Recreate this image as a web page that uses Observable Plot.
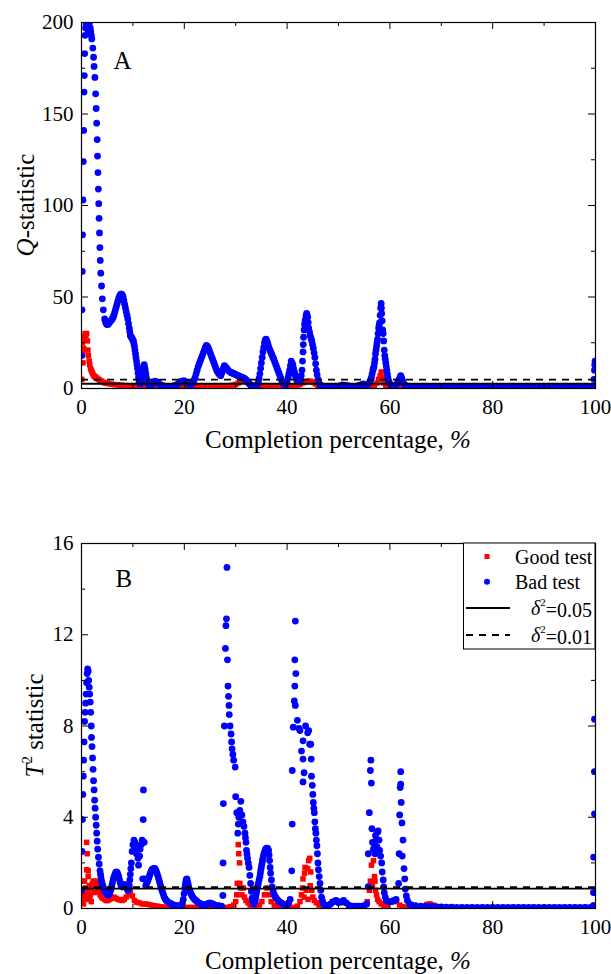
<!DOCTYPE html>
<html><head><meta charset="utf-8">
<script src="https://cdn.jsdelivr.net/npm/d3@7"></script>
<script src="https://cdn.jsdelivr.net/npm/@observablehq/plot@0.6"></script>
<style>
body{margin:0;background:#fff;}
#wrap{position:relative;width:611px;height:974px;}
#wrap svg{position:absolute;left:0;}
</style></head><body><div id="wrap"></div>
<script>
// ---------- data (completion %, statistic) ----------
const qBad = [
[0.05,18],[0.1,43],[0.15,64],[0.2,84],[0.28,103],[0.35,124],[0.42,141],[0.5,162],[0.55,171],[0.62,183],[0.7,193],[0.8,197],[0.9,199],[1.0,200],[1.1,198],[1.25,196],[1.4,199],[1.55,200],[1.7,197],[1.8,195],[1.9,193],[2.0,191],[2.2,186],[2.35,181],[2.45,176],[2.6,170],[2.75,161],[2.85,153],[2.95,145],[3.05,136],[3.12,127],[3.2,118],[3.28,109],[3.35,101],[3.42,93],[3.5,85],[3.58,77],[3.65,70],[3.75,63],[3.9,56],[4.05,49],[4.25,43],
[4.5,38],[4.65,36.5],[4.8,35.5],[4.95,35],[5.1,35],[5.25,35.3],[5.4,36],[5.55,36.5],[5.7,37],[5.85,37.5],[6.0,38],[6.15,39],[6.3,40],[6.45,41.5],[6.6,43],[6.75,44.5],[6.9,46],[7.05,47.5],[7.2,49],[7.35,50],[7.5,51],[7.65,51.5],[7.8,51.5],[7.95,51],[8.1,50],[8.25,48],[8.4,46],[8.55,44],[8.7,42],[8.85,40],[9.0,38],[9.15,35.5],[9.3,33],[9.4,31],[9.5,29],[9.6,28.5],[9.7,28],[9.8,27.5],[9.9,27],[10.0,26.5],[10.1,26],[10.2,24.5],[10.3,23],[10.4,21],[10.5,19],[10.6,17],[10.7,15],[10.8,13],[10.9,11],[11.0,8.5],[11.1,6],[11.2,4],[11.4,2.5],[11.6,3],[11.7,5],[11.8,7],[11.9,9],[12.0,11],[12.1,12],[12.2,13],[12.3,11.5],[12.4,10],[12.5,8],[12.6,6],[12.7,4.5],[12.8,3],[13.1,2],[13.5,1.5],[13.7,2],[13.9,2.5],[14.1,3.3],[14.3,4],[14.5,3.8],[14.7,3.5],[14.9,3],[15.1,2.5],[15.3,2.1],[15.5,1.8],[15.8,1.5],[16.0,1.3],[16.5,1],[17.0,1],[17.5,1.2],[18.0,1.5],[18.5,2],[18.8,2.5],[19.0,3],[19.3,3.6],[19.5,4],[19.8,4.2],[20.0,4.2],[20.3,3.5],[20.5,3],[20.8,2.4],[21.0,2],[21.3,2.2],
[21.5,2.5],[21.7,3.5],[21.9,4.5],[22.1,6],[22.3,8],[22.5,10],[22.7,12],[22.9,13.5],[23.1,15],[23.3,16.5],[23.5,18],[23.7,19.5],[23.9,21],[24.1,22.5],[24.3,23.5],[24.5,23],[24.7,22],[24.9,20.5],[25.1,19],[25.3,17.5],[25.5,16],[25.7,14.5],[25.9,13],[26.1,11.5],[26.3,10],[26.5,9],[26.7,8],[26.9,7.5],[27.1,7],[27.3,8.5],[27.5,10],[27.65,11.5],[27.8,12.5],[27.95,12],[28.1,11.5],[28.3,10.8],[28.5,10],[28.7,9.5],[28.9,9],[29.1,8.8],[29.3,8.5],[29.5,8.2],[29.7,8],[29.9,7.8],[30.1,7.5],[30.3,7.2],[30.5,7],[30.7,6.8],[30.9,6.5],[31.1,6.2],[31.3,6],[31.5,5.8],[31.7,5.5],[31.9,5],[32.1,4.5],[32.3,3.8],[32.5,3],[32.7,2.5],[32.9,2],[33.1,1.5],[33.3,1.2],[33.5,1],[33.7,1],[33.9,1.2],[34.1,1.5],[34.25,2.5],[34.4,3.5],[34.55,5.5],[34.7,8],[34.85,11],[35.0,14],[35.15,17],[35.3,20],[35.45,22.5],[35.6,25],[35.75,26.5],[35.9,27],[36.05,26],[36.2,25],[36.35,23.5],[36.5,22],[36.65,21],[36.8,20],[36.95,19],[37.1,18],[37.25,17],[37.4,16],[37.6,14.5],[37.8,13],[38.0,11.5],[38.2,10],[38.4,8.5],[38.6,7],[38.8,5.5],[39.0,4],[39.2,3],[39.4,2.5],[39.6,2],[39.8,2],[40.0,3.5],[40.2,6],[40.35,8],[40.5,10],[40.65,12.5],[40.8,15],[40.95,14],[41.1,13],[41.2,11.5],[41.3,10],[41.4,9],[41.5,8],[41.65,6.5],[41.8,5],[42.0,4],[42.2,3.5],[42.4,4],
[42.6,4.5],[42.75,7],[42.9,10],[43.0,15],[43.1,20],[43.15,24],[43.2,28],[43.3,32],[43.4,35],[43.5,37],[43.6,38],[43.7,40],[43.8,41],[43.9,40],[44.0,39],[44.1,36],[44.2,33],[44.35,31],[44.5,29],[44.65,27.5],[44.8,26],[44.95,24],[45.1,22],[45.25,19.5],[45.4,17],[45.55,13.5],[45.7,10],[45.85,7.5],[46.0,5],[46.15,3.5],[46.3,2.5],[46.55,1.8],[46.8,1.2],[47.3,1],[47.8,0.8],[48.3,0.8],[48.8,1],[49.3,1.2],[49.8,1],[50.3,1.5],[50.8,2],[51.3,1.8],[51.8,1.5],[52.3,1.2],[52.8,1],[53.3,1.2],[53.8,1.5],[54.3,2],[54.8,2.5],[55.3,2],[55.8,2.5],[56.0,3.2],[56.2,4],[56.3,5],[56.4,6],[56.55,8],[56.7,10],[56.8,11],[56.9,12],[57.0,14],[57.1,16],[57.2,19],[57.3,21],[57.4,23],[57.5,25],[57.6,27],[57.7,30],[57.8,33],[57.9,34.5],[58.0,36],[58.1,40],[58.2,44],[58.3,46.5],[58.35,44],[58.4,41],[58.5,37],[58.6,32],[58.7,30],[58.8,26],[58.9,21],[59.0,18],[59.1,16],[59.2,14],[59.3,12],[59.4,10],[59.5,8],[59.6,6],[59.7,4.5],[59.85,3.5],[60.0,2.5],[60.5,1.5],[61.0,1.5],[61.3,2.2],[61.5,3],[61.65,4],[61.8,5],[61.95,6],[62.1,7],[62.2,6.2],[62.3,5.5],[62.45,4.2],[62.6,3],[62.8,2.2],[63.0,1.5],[63.5,1],[64,1],[65,0.9],[66,0.9],[67,0.8],[68,0.8],[69,0.8],[70,0.7],[71,0.7],[72,0.7],[73,0.7],[74,0.7],[75,0.7],[76,0.7],[77,0.7],[78,0.7],[79,0.7],[80,0.7],[81,0.7],[82,0.7],[83,0.7],[84,0.7],[85,0.7],[86,0.7],[87,0.7],[88,0.7],[89,0.7],[90,0.7],[91,0.7],[92,0.7],[93,0.7],[94,0.7],[95,0.7],[96,0.7],[97,0.7],[98,0.7],[99,0.7],[99.5,1],[99.7,5],[99.8,10],[99.85,13],[99.9,15]
];
const qGood = [
[0.05,5],[0.15,25],[0.25,19],[0.3,14],[0.4,22],[0.55,28],[0.7,30],[0.85,29],[1.0,30],[1.15,26],[1.25,21],[1.35,18],[1.5,15],[1.6,13],[1.75,11],[1.9,10],[2.05,9],[2.2,8],[2.4,7],[2.6,6.5],[2.8,6],[3.0,5.5],[3.3,5],[3.6,4.5],[3.9,4],[4.2,3.5],[4.6,3],[5.0,2.8],[5.5,2.5],[6.0,2.3],[6.5,2.1],[7.0,2],[7.5,1.8],[8.0,1.7],[8.5,1.6],[9.0,1.5],[9.5,1.5],[10,1.4],[10.5,1.3],[11,1.3],[12,1.2],[13,1.2],[14,1.3],[15,1.2],[16,1.1],[17,1],[18,1],[19,1.1],[20,1.2],[21,1.3],[22,1.2],[23,1.1],[24,1.2],[25,1.3],[26,1.2],[27,1.3],[28,1.4],[29,1.6],[29.5,1.8],[30,2.2],[30.5,3],[31,4],[31.5,4.5],[32,4],[32.5,3],[33,2],[33.5,1.5],[34,1.2],[35,1.1],[36,1.2],[37,1.3],[38,1.2],[39,1.1],[40,1.2],[41,1.5],[42,1.8],[42.5,2.2],[43,3],[43.5,3.5],[44,4],[44.5,4],[45,3.5],[45.5,2.5],[46,1.6],[47,1.1],[48,0.8],[49,0.8],[50,0.8],[51,0.9],[52,1],[52.5,1.2],[53,1.3],[53.5,1.1],[54,0.8],[55,0.8],[56,0.9],[57,1.2],[57.5,3],[57.8,5],[58.1,7],[58.3,9],[58.5,6],[58.8,3],[59.2,1.5],[60,1],[61,0.9],[62,0.8],[63,0.7],[64,0.6],[65,0.6],[66,0.6],[67,0.6],[68,0.6],[69,0.6],[70,0.5],[72,0.5],[74,0.5],[76,0.5],[78,0.5],[80,0.5],[82,0.5],[84,0.5],[86,0.5],[88,0.5],[90,0.5],[92,0.5],[94,0.5],[96,0.5],[98,0.5],[100,0.5]
];
const t2Bad = [
[0.05,0.8],[0.1,2.5],[0.18,3.9],[0.25,5.0],[0.35,5.8],[0.42,6.5],[0.5,7.3],[0.6,8.2],[0.7,8.6],[0.8,9.0],[0.9,9.4],[1.0,9.9],[1.1,10.3],[1.2,10.5],[1.3,10.4],[1.4,10.0],[1.5,9.7],[1.6,9.4],[1.7,9.05],[1.8,8.6],[1.9,8.0],[1.95,7.5],[2.05,7.1],[2.15,6.6],[2.25,6.1],[2.35,5.6],[2.45,5.2],[2.55,4.75],[2.65,4.4],[2.75,4.0],[2.85,3.65],[2.95,3.3],[3.05,2.95],[3.15,2.6],[3.3,2.25],[3.45,1.95],[3.6,1.65],[3.7,1.5],
[3.8,1.35],[3.9,1.2],[4.0,1.1],[4.15,1.0],[4.3,0.9],[4.45,0.8],[4.6,0.75],[4.8,0.7],[5.0,0.65],[5.15,0.6],[5.3,0.6],[5.45,0.65],[5.6,0.75],[5.75,0.85],[5.9,1.0],[6.05,1.15],[6.2,1.3],[6.35,1.4],[6.5,1.5],[6.65,1.58],[6.8,1.6],[6.95,1.57],[7.1,1.5],[7.25,1.38],[7.4,1.25],[7.55,1.12],[7.7,1.0],[7.85,0.95],[8.0,0.95],[8.15,1.0],[8.3,1.05],[8.45,1.05],[8.6,1.0],[8.75,0.92],[8.9,0.85],[9.0,0.8],[9.1,0.8],[9.2,0.9],[9.3,1.0],[9.4,1.25],[9.5,1.5],[9.6,1.75],[9.7,2.0],[9.85,2.5],[10.0,2.8],[10.2,3.0],[10.4,2.9],[10.5,2.6],[10.7,2.4],[10.8,2.7],[11.0,2.2],[11.1,1.9],[11.3,2.3],[11.4,2.6],[11.6,2.8],[11.8,3.0],[11.9,1.3],[12.0,3.9],[12.05,5.2],[12.2,2.9],[12.3,1.3],
[12.5,1.0],[12.65,1.08],[12.8,1.15],[12.95,1.25],[13.1,1.35],[13.25,1.45],[13.4,1.55],[13.55,1.63],[13.7,1.7],[13.85,1.73],[14.0,1.75],[14.15,1.76],[14.3,1.75],[14.45,1.68],[14.6,1.6],[14.75,1.5],[14.9,1.4],[15.05,1.28],[15.2,1.15],[15.35,1.02],[15.5,0.9],[15.65,0.8],[15.8,0.7],[15.95,0.6],[16.1,0.5],[16.3,0.42],[16.5,0.35],[16.75,0.3],[17.0,0.25],[17.25,0.22],[17.5,0.2],[17.75,0.17],[18.0,0.15],[18.25,0.13],[18.5,0.12],[18.75,0.11],[19.0,0.1],[19.25,0.12],[19.5,0.15],[19.65,0.25],[19.8,0.4],[19.95,0.65],[20.1,0.9],[20.2,1.05],[20.3,1.2],[20.4,1.28],[20.5,1.3],[20.6,1.2],[20.7,1.1],[20.8,1.0],[20.9,0.9],[21.05,0.8],[21.2,0.7],[21.35,0.62],[21.5,0.55],[21.75,0.47],[22.0,0.4],[22.25,0.35],[22.5,0.3],[22.75,0.26],[23.0,0.22],[23.25,0.2],[23.5,0.18],[23.75,0.16],[24.0,0.15],[24.25,0.17],[24.5,0.2],[24.75,0.22],[25.0,0.25],[25.25,0.22],[25.5,0.2],[25.75,0.17],[26.0,0.15],[26.25,0.13],[26.5,0.12],[26.75,0.11],[27.0,0.1],[27.25,0.1],
[27.5,0.57],[27.55,2.0],[27.6,4.6],[27.8,8.0],[28.0,11.4],[28.1,12.4],[28.2,12.7],[28.3,14.95],[28.4,10.9],[28.5,9.75],[28.6,9.3],[28.7,8.9],[28.75,8.5],[28.9,8.0],[29.1,7.65],[29.2,7.3],[29.3,7.0],[29.45,6.75],[29.6,6.5],[29.9,6.2],[30.0,4.9],[30.2,4.2],[30.4,3.3],[30.5,3.7],[30.6,4.0],[30.8,4.3],[31.0,4.7],[31.2,4.1],[31.4,3.8],[31.6,3.6],
[31.8,3.3],[31.9,3.1],[32.0,2.9],[32.1,2.55],[32.2,2.38],[32.3,2.2],[32.45,2.0],[32.6,1.8],[32.75,1.45],[32.9,1.1],[33.05,0.75],[33.2,0.45],[33.35,0.3],[33.5,0.2],[33.65,0.25],[33.8,0.35],[33.9,0.5],[34.0,0.65],[34.1,0.78],[34.2,0.9],[34.3,1.0],[34.4,1.1],[34.55,1.25],[34.7,1.4],[34.8,1.55],[34.9,1.7],[35.0,1.82],[35.1,1.95],[35.2,2.08],[35.3,2.2],[35.4,2.3],[35.5,2.4],[35.65,2.5],[35.8,2.6],[35.95,2.63],[36.1,2.65],[36.25,2.62],[36.4,2.55],[36.5,2.35],[36.6,2.1],[36.7,1.8],[36.8,1.55],[36.95,1.25],[37.1,0.95],[37.3,0.75],[37.5,0.6],[37.7,0.52],[37.9,0.45],[38.2,0.37],[38.5,0.3],[38.85,0.25],[39.2,0.2],[39.6,0.17],[40.0,0.15],[40.3,0.25],[40.6,0.4],
[40.9,1.65],[41.0,3.7],[41.0,6.05],[41.2,7.95],[41.4,9.1],[41.5,9.75],[41.5,10.9],[41.6,8.9],[41.7,10.3],[41.6,12.6],[42.0,8.25],[42.3,7.9],[42.5,7.8],[42.8,6.9],[43.1,6.55],[43.1,7.35],[43.3,5.95],[43.1,5.55],[43.6,8.0],[44.0,7.7],[44.2,7.8],[44.4,7.2],[44.6,7.2],[44.7,6.55],[44.75,5.8],[44.9,5.4],[45.0,5.0],[45.1,4.65],[45.2,4.4],[45.3,4.2],[45.4,3.8],[45.5,3.5],[45.6,3.3],[45.7,3.0],[45.8,2.75],[45.9,2.4],[46.0,2.0],[46.1,1.7],[46.25,1.4],[46.4,1.1],[46.55,0.8],[46.7,0.5],[46.85,0.35],[47.0,0.25],[47.3,0.15],[47.7,0.12],[48.1,0.15],[48.5,0.2],[49.0,0.3],[49.5,0.35],[50.0,0.25],[50.5,0.3],[51.0,0.35],[51.5,0.25],[52.0,0.15],[52.5,0.1],[53.0,0.1],[53.5,0.1],[54.0,0.1],[54.5,0.1],[55.0,0.12],[55.5,0.2],[55.8,0.96],[55.8,2.4],[56.0,4.2],[56.2,6.05],[56.3,6.5],[56.4,5.5],[56.5,3.5],[56.6,2.9],[56.8,2.6],[57.0,2.8],[57.1,2.4],[57.2,3.2],[57.35,3.0],[57.5,2.7],[57.6,3.35],[57.7,3.4],[57.9,3.0],[58.0,2.55],[58.2,2.3],[58.4,2.0],[58.5,1.6],[58.7,1.25],[58.8,0.95],[58.9,0.7],[59.1,0.5],[59.3,0.35],[59.8,0.3],[60.3,0.3],[60.8,0.35],[61.2,0.4],[61.7,1.1],[61.8,2.4],[61.9,4.1],[62.0,5.3],[62.1,5.45],[62.1,6.0],[62.2,4.65],[62.35,3.75],[62.4,2.3],[62.55,3.0],[62.75,1.75],[62.9,1.3],[63.0,0.85],[63.2,0.55],[63.4,0.35],[63.8,0.2],[64.3,0.15],[65,0.12],[66,0.1],[67,0.1],[68,0.1],[69,0.08],[70,0.07],[71,0.06],[72,0.06],[73,0.05],[74,0.05],[75,0.05],[76,0.05],[77,0.05],[78,0.05],[79,0.05],[80,0.05],[81,0.05],[82,0.05],[83,0.05],[84,0.05],[85,0.05],[86,0.05],[87,0.05],[88,0.05],[89,0.05],[90,0.05],[91,0.05],[92,0.05],[93,0.05],[94,0.05],[95,0.05],[96,0.05],[97,0.05],[98,0.05],[99,0.05],[99.6,0.13],[99.6,0.7],[99.65,2.25],[99.8,4.15],[99.8,6.0],[99.8,8.3]
];
const t2Good = [
[0.05,0.3],[0.1,1.2],[0.2,0.5],[0.3,0.8],[0.4,0.2],[0.5,0.6],[0.6,1.2],[0.7,0.5],[0.8,0.9],[0.9,0.4],[1.0,2.9],[1.1,2.4],[1.0,1.7],[1.3,1.65],[1.3,1.4],[1.4,0.7],[1.5,1.0],[1.6,0.4],[1.7,0.6],[1.8,0.9],[1.9,0.3],[2.0,1.0],[2.1,1.1],[2.3,1.2],[2.5,0.7],[2.6,1.15],[2.8,1.2],[2.9,1.1],[3.1,0.9],[3.3,0.75],[3.6,0.6],[3.9,0.5],[4.2,0.45],[4.5,0.4],[4.8,0.35],[5.1,0.35],[5.5,0.4],[5.9,0.45],[6.3,0.5],[6.7,0.45],[7.1,0.4],[7.5,0.38],[7.9,0.35],[8.3,0.4],[8.7,0.5],[9.1,0.6],[9.5,0.7],[9.9,0.55],[10.3,0.35],[10.7,0.28],[11.2,0.25],[11.8,0.2],[12.4,0.2],[13,0.18],[13.6,0.15],[14.2,0.12],[14.8,0.1],[15.5,0.08],[16.2,0.06],[17,0.05],[18,0.05],[19,0.05],[20,0.05],[21,0.05],[22,0.05],[23,0.05],[24,0.05],[25,0.05],[26,0.05],[27,0.05],[28,0.05],[29,0.08],[29.6,0.15],[30.0,0.3],[30.2,0.6],[30.3,1.1],[30.5,2.8],[30.6,2.4],[30.75,2.0],[30.8,1.1],[31.0,0.9],[31.2,0.6],[31.5,0.9],[31.7,0.5],[32.0,0.35],[32.4,0.25],[32.8,0.15],[33.3,0.1],[34.0,0.05],[34.6,0.15],[35.1,0.3],[35.6,0.6],[36.1,0.9],[36.5,0.6],[36.9,0.3],[37.5,0.15],[38.2,0.08],[39,0.05],[40,0.05],[41,0.05],[42,0.1],[42.5,0.3],[42.8,0.6],[43.0,0.9],[43.1,1.3],[43.3,0.5],[43.4,1.55],[43.5,1.8],[43.7,0.8],[44.0,1.75],[44.1,0.4],[44.2,2.1],[44.4,2.2],[44.5,1.0],[44.6,1.6],[44.8,0.8],[45.0,0.5],[45.3,0.35],[45.7,0.25],[46.2,0.15],[47,0.1],[48,0.15],[48.8,0.3],[49.5,0.35],[50.3,0.3],[51,0.25],[52,0.1],[53,0.08],[54,0.08],[55,0.1],[55.6,0.3],[56.0,0.8],[56.2,1.2],[56.4,1.9],[56.6,1.0],[56.8,2.1],[57.0,1.4],[57.1,1.2],[57.2,0.8],[57.4,0.6],[57.6,0.4],[57.9,0.3],[58.3,0.2],[58.8,0.12],[59.5,0.15],[60.1,0.3],[60.7,0.35],[61.3,0.3],[61.9,0.15],[62.5,0.08],[63.5,0.05],[64.5,0.05],[65.5,0.05],[66.5,0.1],[67.2,0.18],[67.8,0.2],[68.4,0.15],[69.2,0.08],[70,0.05],[72,0.05],[74,0.05],[76,0.05],[78,0.05],[80,0.05],[82,0.05],[84,0.05],[86,0.05],[88,0.05],[90,0.05],[92,0.05],[94,0.05],[96,0.05],[98,0.05],[99.8,0.15]
];
// control limits
const qLimit05 = [2.6], qLimit01 = [4.8];
const tLimit05 = [0.87], tLimit01 = [0.94];
// ticks
const xMajor = [0,20,40,60,80,100], xMinor = [10,30,50,70,90];
const qMajor = [0,50,100,150,200], qMinor = [25,75,125,175];
const tMajor = [0,4,8,12,16], tMinor = [2,6,10,14];
const legendItems = [
  {label:"Good test", kind:"square"},
  {label:"Bad test", kind:"circle"},
  {label:"=0.05", kind:"solid"},
  {label:"=0.01", kind:"dashed"}
];

const FONT = '"Liberation Serif","Times New Roman",serif';
const RED = "#ff0000", BLUE = "#0000ff";
const W = 611, ML = 81, MR = 16;

function panel({good, bad, yDomain, yMajor, yMinor, lim05, lim01, height, marginTop, marginBottom, letter, letterDx, letterDy}) {
  const plotH = height - marginTop - marginBottom;
  const plotW = W - ML - MR;
  return Plot.plot({
    width: W, height, marginTop, marginBottom, marginLeft: ML, marginRight: MR,
    x: {domain: [0, 100], ticks: xMajor, tickSize: 0, tickPadding: 11, label: null},
    y: {domain: yDomain, ticks: yMajor, tickSize: 0, tickPadding: 8, label: null},
    style: {fontFamily: FONT, fontSize: "21px", color: "#000", background: "transparent", overflow: "visible"},
    marks: [
      Plot.dot(good, {x: d => d[0], y: d => d[1], symbol: "square", r: 3.1, fill: RED, stroke: "none", clip: true}),
      Plot.dot(bad, {x: d => d[0], y: d => d[1], r: 3.4, fill: BLUE, stroke: "none", clip: true}),
      Plot.ruleY(lim05, {stroke: "#000", strokeWidth: 1.8}),
      Plot.ruleY(lim01, {stroke: "#000", strokeWidth: 1.8, strokeDasharray: "7,6"}),
      Plot.frame({stroke: "#000", strokeWidth: 1.2}),
      Plot.tickX(xMajor, {x: d => d, insetTop: plotH - 7, stroke: "#000"}),
      Plot.tickX(xMajor, {x: d => d, insetBottom: plotH - 7, stroke: "#000"}),
      Plot.tickX(xMinor, {x: d => d, insetTop: plotH - 4, stroke: "#000"}),
      Plot.tickX(xMinor, {x: d => d, insetBottom: plotH - 4, stroke: "#000"}),
      Plot.tickY(yMajor, {y: d => d, insetRight: plotW - 7, stroke: "#000"}),
      Plot.tickY(yMajor, {y: d => d, insetLeft: plotW - 7, stroke: "#000"}),
      Plot.tickY(yMinor, {y: d => d, insetRight: plotW - 4, stroke: "#000"}),
      Plot.tickY(yMinor, {y: d => d, insetLeft: plotW - 4, stroke: "#000"}),
      Plot.text([letter], {frameAnchor: "top-left", dx: letterDx, dy: letterDy, textAnchor: "start", lineAnchor: "middle", fontSize: 25, fill: "#000"})
    ]
  });
}

const wrap = document.getElementById("wrap");

const A = panel({good: qGood, bad: qBad, yDomain: [0, 200], yMajor: qMajor, yMinor: qMinor,
  lim05: qLimit05, lim01: qLimit01, height: 470, marginTop: 22, marginBottom: 82, letter: "A", letterDx: 32, letterDy: 38});
A.style.top = "0px";
wrap.appendChild(A);

const B_TOP = 487;
const B = panel({good: t2Good, bad: t2Bad, yDomain: [0, 16], yMajor: tMajor, yMinor: tMinor,
  lim05: tLimit05, lim01: tLimit01, height: 487, marginTop: 56, marginBottom: 66, letter: "B", letterDx: 34, letterDy: 35});
B.style.top = B_TOP + "px";
wrap.appendChild(B);

function xTitle(svg, y) {
  const t = d3.select(svg).append("text").attr("x", 338).attr("y", y).attr("text-anchor", "middle")
    .attr("font-family", FONT).attr("font-size", 25).attr("fill", "#000");
  t.append("tspan").text("Completion percentage, ");
  t.append("tspan").attr("font-style", "italic").text("%");
}
xTitle(A, 448);
xTitle(B, 969 - B_TOP);

// y titles
{
  const t = d3.select(A).append("text").attr("transform", "translate(34,205) rotate(-90)")
    .attr("text-anchor", "middle").attr("font-family", FONT).attr("font-size", 25).attr("fill", "#000");
  t.append("tspan").attr("font-style", "italic").text("Q");
  t.append("tspan").text("-statistic");
}
{
  const t = d3.select(B).append("text").attr("transform", `translate(43,${725.5 - B_TOP}) rotate(-90)`)
    .attr("text-anchor", "middle").attr("font-family", FONT).attr("font-size", 25).attr("fill", "#000");
  t.append("tspan").attr("font-style", "italic").text("T");
  t.append("tspan").attr("font-size", 15).attr("dy", "-0.75em").text("2");
  t.append("tspan").attr("dy", "0.45em").text(" statistic");
}

// legend in panel B
{
  const g = d3.select(B).append("g").attr("font-family", FONT).attr("font-size", 20).attr("fill", "#000");
  g.append("rect").attr("x", 463.5).attr("y", 56).attr("width", 131.5).attr("height", 106)
    .attr("fill", "#fff").attr("stroke", "#000").attr("stroke-width", 1);
  const rowY = [69.5, 94.8, 121, 148];
  legendItems.forEach((it, i) => {
    const cy = rowY[i];
    if (it.kind === "square") {
      g.append("rect").attr("x", 484.5).attr("y", cy - 2.5).attr("width", 5).attr("height", 5).attr("fill", RED);
    } else if (it.kind === "circle") {
      g.append("circle").attr("cx", 487).attr("cy", cy).attr("r", 3).attr("fill", BLUE);
    } else {
      g.append("line").attr("x1", 466).attr("x2", 510).attr("y1", cy).attr("y2", cy)
        .attr("stroke", "#000").attr("stroke-width", 1.8)
        .attr("stroke-dasharray", it.kind === "dashed" ? "7,6" : null);
    }
    if (it.kind === "square" || it.kind === "circle") {
      g.append("text").attr("x", 515).attr("y", cy + 7).attr("text-anchor", "start").text(it.label);
    } else {
      const t = g.append("text").attr("x", 592).attr("y", cy + 7).attr("text-anchor", "end");
      t.append("tspan").attr("font-style", "italic").text("δ");
      t.append("tspan").attr("font-size", 11).attr("dy", "-0.8em").text("2");
      t.append("tspan").attr("dy", "0.55em").text(it.label);
    }
  });
}
</script></body></html>
